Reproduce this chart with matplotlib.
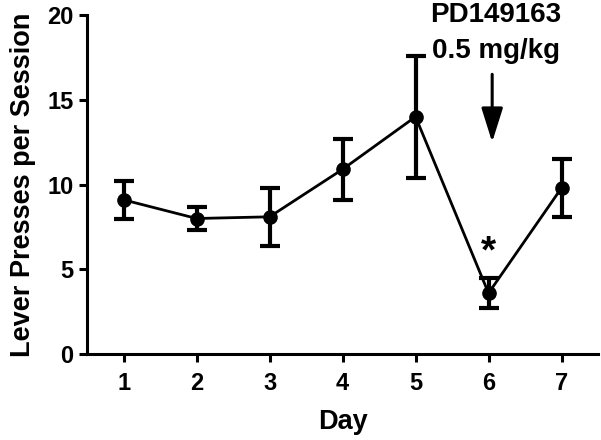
import matplotlib
matplotlib.use("Agg")
import matplotlib.pyplot as plt

plt.rcParams["font.family"] = ["Liberation Sans", "DejaVu Sans"]
plt.rcParams["font.weight"] = "bold"

days = [1, 2, 3, 4, 5, 6, 7]
presses = [9.1, 8.0, 8.1, 10.9, 14.0, 3.6, 9.8]
sem = [1.1, 0.67, 1.7, 1.8, 3.6, 0.9, 1.7]

fig = plt.figure(figsize=(6.01, 4.40), dpi=100)
ax = fig.add_axes([0.145, 0.195, 0.85, 0.771])

ax.errorbar(days, presses, yerr=sem, color="black", linewidth=2,
            marker="o", markersize=9.5, elinewidth=3, capsize=7, capthick=3)

ax.set_xlim(0.5, 7.5)
ax.set_ylim(0, 20)
ax.set_xticks(days)
ax.set_yticks([0, 5, 10, 15, 20])
ax.tick_params(labelsize=17, width=2.2, length=6)
ax.tick_params(axis="x", pad=7)
ax.tick_params(axis="y", pad=4)
for lab in ax.get_xticklabels() + ax.get_yticklabels():
    lab.set_fontweight("bold")
for side in ["top", "right"]:
    ax.spines[side].set_visible(False)
for side in ["left", "bottom"]:
    ax.spines[side].set_linewidth(2.2)

ax.set_xlabel("Day", fontsize=19.5, fontweight="bold", labelpad=10)
ax.set_ylabel("Lever Presses per Session", fontsize=19.5, fontweight="bold",
              labelpad=8)

ax.text(6.1, 20.0, "PD149163", ha="center", va="center",
        fontsize=20, fontweight="bold", clip_on=False)
ax.text(6.1, 17.85, "0.5 mg/kg", ha="center", va="center",
        fontsize=20, fontweight="bold", clip_on=False)
ax.annotate("", xy=(6.05, 12.5), xytext=(6.05, 16.5),
            arrowprops=dict(arrowstyle="-|>,head_width=0.33,head_length=1.05",
                            mutation_scale=20, color="black", lw=2.2,
                            shrinkA=0, shrinkB=0))
ax.text(6.0, 6.0, "*", ha="center", va="center", fontsize=28, fontweight="bold")

fig.savefig("out.png", dpi=100)
